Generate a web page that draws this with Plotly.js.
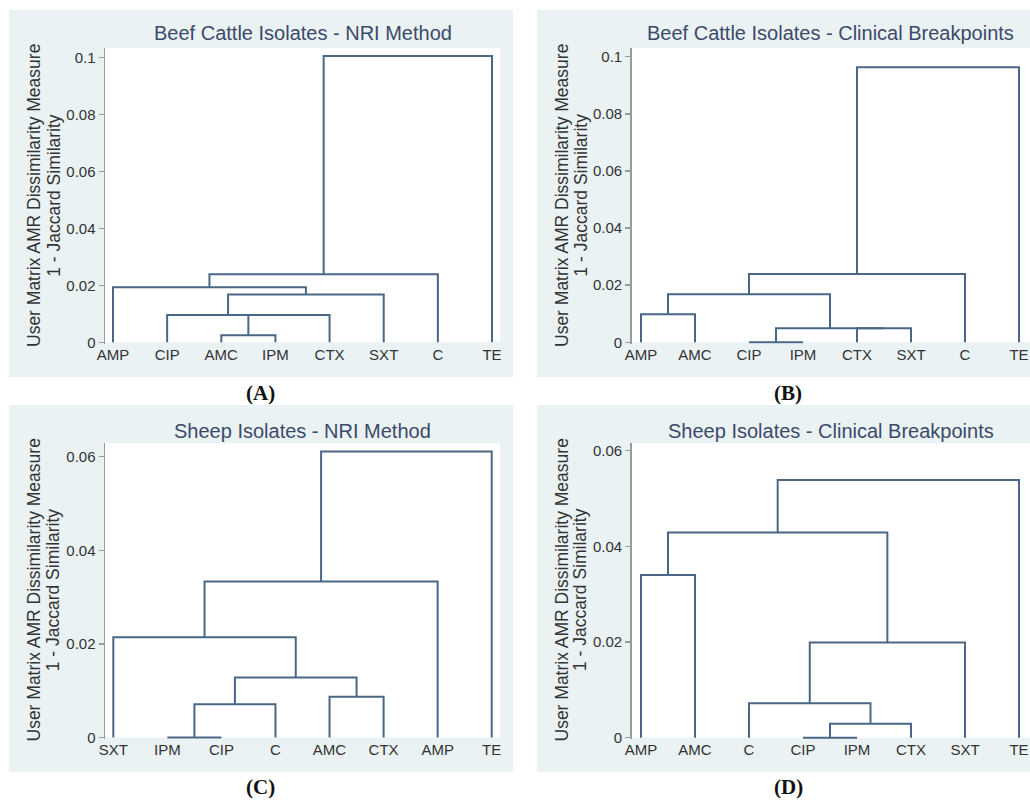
<!DOCTYPE html>
<html><head><meta charset="utf-8">
<script src="https://cdn.plot.ly/plotly-3.0.1.min.js"></script>
<style>html,body{margin:0;padding:0;background:#fff}</style>
</head><body><div id="chart" style="width:1030px;height:801px"></div>
<script>
// ---------------- DATA ----------------
const titles = ['Beef Cattle Isolates - NRI Method','Beef Cattle Isolates - Clinical Breakpoints','Sheep Isolates - NRI Method','Sheep Isolates - Clinical Breakpoints'];
const panelTags = ['(A)','(B)','(C)','(D)'];
const yTitleLine1 = 'User Matrix AMR Dissimilarity Measure';
const yTitleLine2 = '1 - Jaccard Similarity';

const yTicksBeef = [0,0.02,0.04,0.06,0.08,0.1];
const yTickTextBeef = ['0','0.02','0.04','0.06','0.08','0.1'];
const yTicksSheep = [0,0.02,0.04,0.06];
const yTickTextSheep = ['0','0.02','0.04','0.06'];

// Panel A: leaf order, merges (#n = n-th merged cluster), merge heights
const leavesA = ['AMP','CIP','AMC','IPM','CTX','SXT','C','TE'];
const mergesA = [['AMC','IPM'],['#0','CTX'],['CIP','#1'],['#2','SXT'],['AMP','#3'],['#4','C'],['#5','TE']];
const heightsA = [0.0025,0.0096,0.0096,0.0168,0.0193,0.0239,0.1005];

// Panel B
const leavesB = ['AMP','AMC','CIP','IPM','CTX','SXT','C','TE'];
const mergesB = [['CIP','IPM'],['CTX','SXT'],['#0','#1'],['AMP','AMC'],['#3','#2'],['#4','C'],['#5','TE']];
const heightsB = [0,0.0049,0.0049,0.0098,0.0168,0.0239,0.0963];

// Panel C
const leavesC = ['SXT','IPM','CIP','C','AMC','CTX','AMP','TE'];
const mergesC = [['IPM','CIP'],['#0','C'],['AMC','CTX'],['#1','#2'],['SXT','#3'],['#4','AMP'],['#5','TE']];
const heightsC = [0,0.0071,0.0087,0.0128,0.0214,0.0333,0.0611];

// Panel D
const leavesD = ['AMP','AMC','C','CIP','IPM','CTX','SXT','TE'];
const mergesD = [['CIP','IPM'],['#0','CTX'],['C','#1'],['#2','SXT'],['AMP','AMC'],['#4','#3'],['#5','TE']];
const heightsD = [0,0.0029,0.0072,0.0199,0.0340,0.0429,0.0539];

// ---------------- LAYOUT GEOMETRY (pixels) ----------------
const W = 1030, H = 801;
const geom = [
  {left:105,   right:500,  top:48,    zero:342.3, refPx:57.3,  refVal:0.1,  lf:113,   ll:492,   bg:[9,10,513,377],      tt:[302.5,33],    yt:[33.5,53.3,195.5], tag:[260,393]},
  {left:631.7, right:1030, top:48,    zero:342.3, refPx:56.7,  refVal:0.1,  lf:641,   ll:1019,  bg:[537,10,1030,377],   tt:[830.8,33],    yt:[561.5,580,195.5], tag:[788,393]},
  {left:105,   right:500,  top:443.3, zero:737.4, refPx:456.7, refVal:0.06, lf:113.3, ll:491.7, bg:[9,405,513,771.7],   tt:[302.5,430.7], yt:[33.5,53.3,590],   tag:[260,786.7]},
  {left:631.7, right:1030, top:443.3, zero:737.7, refPx:450.7, refVal:0.06, lf:641,   ll:1019,  bg:[537,405,1030,771.7], tt:[830.8,430.7], yt:[561.5,580,590],   tag:[788,786.7]}
];
const panels = [
  {leaves:leavesA, merges:mergesA, heights:heightsA, ticks:yTicksBeef, tickText:yTickTextBeef},
  {leaves:leavesB, merges:mergesB, heights:heightsB, ticks:yTicksBeef, tickText:yTickTextBeef},
  {leaves:leavesC, merges:mergesC, heights:heightsC, ticks:yTicksSheep, tickText:yTickTextSheep},
  {leaves:leavesD, merges:mergesD, heights:heightsD, ticks:yTicksSheep, tickText:yTickTextSheep}
];

const lineColor = '#4a6787';
const bgColor = '#eaf2f3';
const titleColor = '#3b4a6b';
const textColor = '#333333';
const axisColor = '#9a9a9a';
const fontFam = '"Liberation Sans", Arial, sans-serif';

function dendroSegments(leaves, merges, heights){
  const pos = {};
  leaves.forEach((l,i)=>{ pos[l] = {x:i+1, h:0}; });
  const xs = [], ys = [];
  merges.forEach((m,i)=>{
    const a = pos[m[0]], b = pos[m[1]], h = heights[i];
    xs.push(a.x, a.x, b.x, b.x, null);
    ys.push(a.h, h, h, b.h, null);
    pos['#'+i] = {x:(a.x+b.x)/2, h:h};
  });
  return {xs, ys};
}

const traces = [], shapes = [], annotations = [];
const layout = {
  width: W, height: H,
  margin: {l:0, r:0, t:0, b:0},
  paper_bgcolor: '#ffffff',
  plot_bgcolor: 'rgba(0,0,0,0)',
  showlegend: false,
  font: {family: fontFam, color: textColor}
};

panels.forEach((p, i)=>{
  const g = geom[i];
  const sfx = i === 0 ? '' : String(i+1);
  const seg = dendroSegments(p.leaves, p.merges, p.heights);
  traces.push({
    type:'scatter', mode:'lines', x:seg.xs, y:seg.ys,
    xaxis:'x'+sfx, yaxis:'y'+sfx,
    line:{color:lineColor, width:2}, hoverinfo:'skip', connectgaps:false
  });
  const s = (g.ll - g.lf)/7;
  const vpp = g.refVal/(g.zero - g.refPx);
  const extra = 1.5;
  layout['xaxis'+sfx] = {
    domain:[g.left/W, g.right/W],
    range:[1 - (g.lf - g.left)/s, 8 + (g.right - g.ll)/s],
    anchor:'y'+sfx,
    tickvals:p.leaves.map((_,k)=>k+1), ticktext:p.leaves,
    showgrid:false, zeroline:false, showline:false, ticks:'',
    tickfont:{size:15, color:textColor, family:fontFam},
    fixedrange:true
  };
  layout['yaxis'+sfx] = {
    domain:[1 - (g.zero + extra)/H, 1 - g.top/H],
    range:[-extra*vpp, (g.zero - g.top)*vpp],
    anchor:'x'+sfx,
    tickvals:p.ticks, ticktext:p.tickText,
    showgrid:false, zeroline:false,
    showline:true, linecolor:axisColor, linewidth:1.5,
    ticks:'outside', ticklen:5, tickwidth:1.5, tickcolor:axisColor,
    tickfont:{size:15, color:textColor, family:fontFam},
    fixedrange:true
  };
  // panel background
  shapes.push({type:'rect', xref:'paper', yref:'paper', layer:'below',
    x0:g.bg[0]/W, x1:g.bg[2]/W, y0:1-g.bg[3]/H, y1:1-g.bg[1]/H,
    fillcolor:bgColor, line:{width:0}});
  // white plot region
  shapes.push({type:'rect', xref:'paper', yref:'paper', layer:'below',
    x0:g.left/W, x1:g.right/W, y0:1-g.zero/H, y1:1-g.top/H,
    fillcolor:'#ffffff', line:{width:0}});
  // title
  annotations.push({xref:'paper', yref:'paper', x:g.tt[0]/W, y:1-g.tt[1]/H,
    xanchor:'center', yanchor:'middle', showarrow:false, text:titles[i],
    font:{size:20, color:titleColor, family:fontFam}});
  // y-axis title (two lines)
  annotations.push({xref:'paper', yref:'paper', x:g.yt[0]/W, y:1-g.yt[2]/H,
    xanchor:'center', yanchor:'middle', showarrow:false, textangle:-90, text:yTitleLine1,
    font:{size:17.5, color:textColor, family:fontFam}});
  annotations.push({xref:'paper', yref:'paper', x:g.yt[1]/W, y:1-g.yt[2]/H,
    xanchor:'center', yanchor:'middle', showarrow:false, textangle:-90, text:yTitleLine2,
    font:{size:17.5, color:textColor, family:fontFam}});
  // panel tag
  annotations.push({xref:'paper', yref:'paper', x:g.tag[0]/W, y:1-g.tag[1]/H,
    xanchor:'center', yanchor:'middle', showarrow:false, text:'<b>'+panelTags[i]+'</b>',
    font:{size:21, color:'#111111', family:'"Liberation Serif", "Times New Roman", serif'}});
});
layout.shapes = shapes;
layout.annotations = annotations;

Plotly.newPlot('chart', traces, layout, {displayModeBar:false, staticPlot:true});
</script>
</body></html>
